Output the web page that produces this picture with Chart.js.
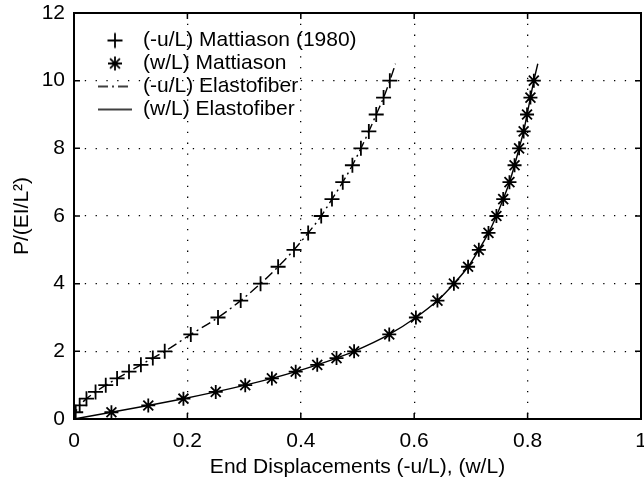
<!DOCTYPE html>
<html><head><meta charset="utf-8">
<script src="https://cdn.jsdelivr.net/npm/chart.js@4/dist/chart.umd.min.js"></script>
<style>html,body{margin:0;padding:0;background:#fff;}#wrap{width:644px;height:487px;}</style>
</head><body><div id="wrap"><canvas id="c" width="644" height="487" style="width:644px;height:487px"></canvas></div>
<script>
// ---- data ----
const loadLevels  = [0.2,0.4,0.6,0.8,1.0,1.2,1.4,1.6,1.8,2.0,2.5,3.0,3.5,4.0,4.5,5.0,5.5,6.0,6.5,7.0,7.5,8.0,8.5,9.0,9.5,10.0];
const mattiasonU  = [0.003,0.010,0.022,0.038,0.056,0.076,0.097,0.118,0.139,0.160,0.206,0.254,0.294,0.329,0.360,0.388,0.413,0.436,0.455,0.474,0.491,0.506,0.520,0.533,0.546,0.557];
const mattiasonW  = [0.066,0.131,0.193,0.250,0.302,0.349,0.391,0.429,0.463,0.494,0.556,0.603,0.641,0.670,0.695,0.714,0.731,0.745,0.757,0.768,0.777,0.785,0.793,0.799,0.805,0.811];
const elastoLoad  = [0,0.2,0.4,0.6,0.8,1.0,1.2,1.4,1.6,1.8,2.0,2.5,3.0,3.5,4.0,4.5,5.0,5.5,6.0,6.5,7.0,7.5,8.0,8.5,9.0,9.5,10.0,10.5];
const elastoU     = [0,0.003,0.010,0.022,0.038,0.056,0.076,0.097,0.118,0.139,0.160,0.206,0.254,0.294,0.329,0.360,0.388,0.413,0.436,0.455,0.474,0.491,0.506,0.520,0.533,0.546,0.557,0.567];
const elastoW     = [0,0.066,0.131,0.193,0.250,0.302,0.349,0.391,0.429,0.463,0.494,0.556,0.603,0.641,0.670,0.695,0.714,0.731,0.745,0.757,0.768,0.777,0.785,0.793,0.799,0.805,0.811,0.818];
const xTickLabels = ['0','0.2','0.4','0.6','0.8','1'];
const yTickLabels = ['0','2','4','6','8','10','12'];
const seriesNames = ['(-u/L) Mattiason (1980)','(w/L) Mattiason','(-u/L) Elastofiber','(w/L) Elastofiber'];
const xTitle = 'End Displacements (-u/L), (w/L)';
const yTitle = 'P/(EI/L\u00B2)';

const FONT = "'Liberation Sans', Arial, Helvetica, sans-serif";
const FS = 21;
const DASHDOT = [10,4,2,4];

function pts(xs, ys){ return xs.map((x,i)=>({x:x, y:ys[i]})); }

function makeIcon(kind){
  const c = document.createElement('canvas'); c.width = 40; c.height = 20;
  const g = c.getContext('2d'); g.strokeStyle = '#000'; g.fillStyle = '#000'; g.lineWidth = 1.8;
  if (kind === 'cross' || kind === 'star') {
    const r = kind === 'cross' ? 7.5 : 7;
    if (Chart.helpers && Chart.helpers.drawPoint) {
      Chart.helpers.drawPoint(g, {pointStyle: kind, radius: r, borderWidth: 1.8, rotation: 0}, 20, 10);
    }
  } else {
    g.lineWidth = 1.4;
    g.setLineDash(kind === 'dashdot' ? DASHDOT : []);
    g.beginPath(); g.moveTo(3,10); g.lineTo(37,10); g.stroke();
  }
  return c;
}

function placeLegend(chart){
  const L = chart.legend, a = chart.chartArea;
  if (!L) return;
  const h = L.bottom - L.top;
  L.left = a.left + 21.5; L.top = a.top + 15; L.bottom = L.top + h;
}

const frameAndTicks = {
  id: 'frameAndTicks',
  afterLayout(chart){ placeLegend(chart); },
  beforeDraw(chart){ placeLegend(chart); },
  afterDatasetsDraw(chart){
    const {ctx, chartArea: a, scales} = chart;
    ctx.save();
    ctx.strokeStyle = '#000'; ctx.lineWidth = 1.5; ctx.setLineDash([]);
    ctx.beginPath();
    scales.x.ticks.forEach(t => {
      const px = scales.x.getPixelForValue(t.value);
      ctx.moveTo(px, a.bottom); ctx.lineTo(px, a.bottom - 6);
      ctx.moveTo(px, a.top); ctx.lineTo(px, a.top + 6);
    });
    scales.y.ticks.forEach(t => {
      const py = scales.y.getPixelForValue(t.value);
      ctx.moveTo(a.left, py); ctx.lineTo(a.left + 6, py);
      ctx.moveTo(a.right, py); ctx.lineTo(a.right - 6, py);
    });
    ctx.stroke();
    ctx.lineWidth = 2;
    ctx.strokeRect(a.left, a.top, a.right - a.left, a.bottom - a.top);
    ctx.restore();
  }
};

const icons = [makeIcon('cross'), makeIcon('star'), makeIcon('dashdot'), makeIcon('solid')];

new Chart(document.getElementById('c'), {
  type: 'scatter',
  data: {
    datasets: [
      { label: seriesNames[0], data: pts(mattiasonU, loadLevels), showLine: false,
        pointStyle: 'cross', pointRadius: 7.5, pointBorderWidth: 1.8, borderColor: '#000', backgroundColor: '#000' },
      { label: seriesNames[1], data: pts(mattiasonW, loadLevels), showLine: false,
        pointStyle: 'star', pointRadius: 7, pointBorderWidth: 1.8, borderColor: '#000', backgroundColor: '#000' },
      { label: seriesNames[2], data: pts(elastoU, elastoLoad), showLine: true, pointRadius: 0,
        borderColor: '#000', borderWidth: 1.4, borderDash: DASHDOT, cubicInterpolationMode: 'monotone', fill: false },
      { label: seriesNames[3], data: pts(elastoW, elastoLoad), showLine: true, pointRadius: 0,
        borderColor: '#000', borderWidth: 1.4, cubicInterpolationMode: 'monotone', fill: false }
    ]
  },
  options: {
    responsive: false, animation: false, devicePixelRatio: 1,
    layout: { autoPadding: false, padding: { left: 0, right: 3, top: 13, bottom: 0 } },
    plugins: {
      tooltip: { enabled: false },
      legend: {
        position: 'chartArea', align: 'start',
        labels: {
          usePointStyle: true, pointStyleWidth: 35, padding: 2, color: '#000',
          font: { family: FONT, size: FS },
          generateLabels(chart){
            const items = Chart.defaults.plugins.legend.labels.generateLabels(chart);
            items.forEach((it, i) => { it.pointStyle = icons[i]; it.lineWidth = 0; it.rotation = 0; });
            return items;
          }
        }
      }
    },
    scales: {
      x: {
        type: 'linear', min: 0, max: 1,
        afterFit(s){ s.height = 68; s.paddingLeft = 0; s.paddingRight = 0; },
        ticks: { stepSize: 0.2, padding: 9.4, color: '#000', font: { family: FONT, size: FS },
                 maxRotation: 0, callback: (v, i) => xTickLabels[i] },
        grid: { color: '#000', lineWidth: 1.3, drawTicks: false },
        border: { display: false, dash: [1.3, 9.5] },
        title: { display: true, text: xTitle, color: '#000', font: { family: FONT, size: FS }, padding: { top: 0, bottom: 7.4 } }
      },
      y: {
        type: 'linear', min: 0, max: 12,
        afterFit(s){ s.width = 74; s.paddingTop = 0; s.paddingBottom = 0; },
        ticks: { stepSize: 2, padding: 9, color: '#000', font: { family: FONT, size: FS },
                 callback: (v, i) => yTickLabels[i] },
        grid: { color: '#000', lineWidth: 1.3, drawTicks: false },
        border: { display: false, dash: [1.3, 9.5] },
        title: { display: true, text: yTitle, color: '#000', font: { family: FONT, size: FS }, padding: { top: 9.4, bottom: 0 } }
      }
    }
  },
  plugins: [frameAndTicks]
});
</script>
</body></html>
